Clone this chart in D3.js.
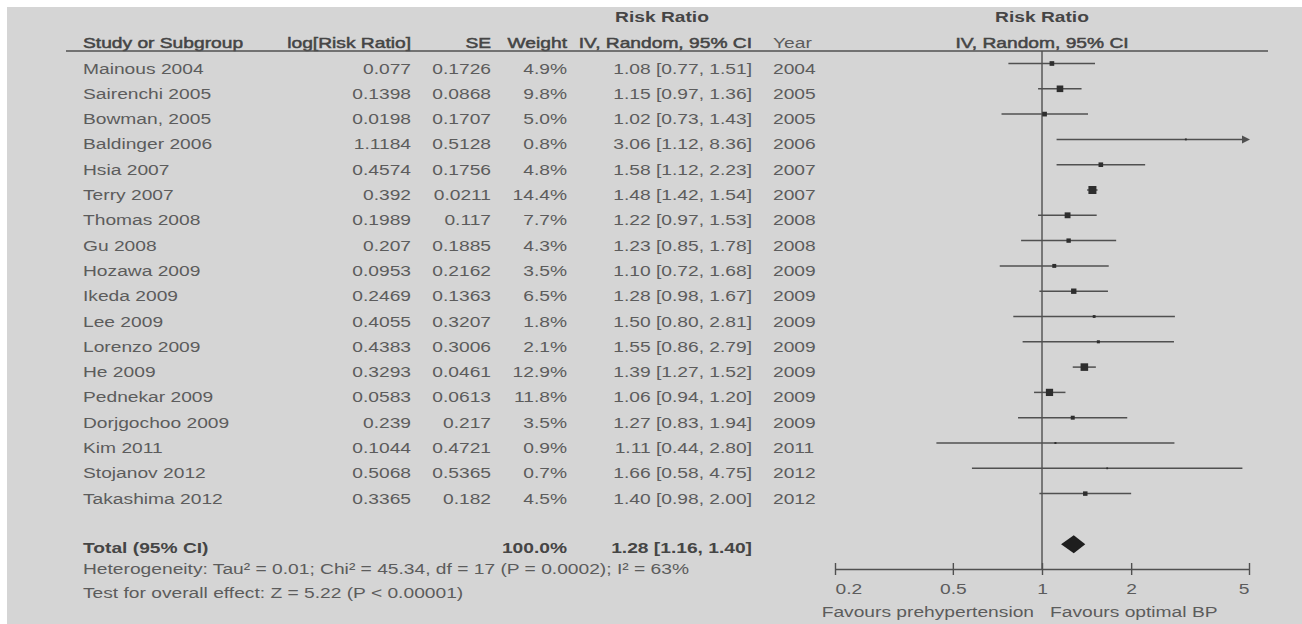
<!DOCTYPE html>
<html>
<head>
<meta charset="utf-8">
<script src="https://cdn.jsdelivr.net/npm/d3@7"></script>
<style>
  html, body { margin: 0; padding: 0; background: #ffffff; }
  svg { display: block; }
</style>
</head>
<body>
<svg id="chart" width="1302" height="624"></svg>
<script>
// ---- Study data (log risk ratios, standard errors, weights, pooled CIs) ----
const studies = ["Mainous 2004", "Sairenchi 2005", "Bowman, 2005", "Baldinger 2006", "Hsia 2007",
  "Terry 2007", "Thomas 2008", "Gu 2008", "Hozawa 2009", "Ikeda 2009", "Lee 2009", "Lorenzo 2009",
  "He 2009", "Pednekar 2009", "Dorjgochoo 2009", "Kim 2011", "Stojanov 2012", "Takashima 2012"];
const logRR = [0.077, 0.1398, 0.0198, 1.1184, 0.4574, 0.392, 0.1989, 0.207, 0.0953, 0.2469,
  0.4055, 0.4383, 0.3293, 0.0583, 0.239, 0.1044, 0.5068, 0.3365];
const seValues = [0.1726, 0.0868, 0.1707, 0.5128, 0.1756, 0.0211, 0.117, 0.1885, 0.2162, 0.1363,
  0.3207, 0.3006, 0.0461, 0.0613, 0.217, 0.4721, 0.5365, 0.182];
const weights = [4.9, 9.8, 5.0, 0.8, 4.8, 14.4, 7.7, 4.3, 3.5, 6.5, 1.8, 2.1, 12.9, 11.8, 3.5, 0.9, 0.7, 4.5];
const riskRatio = [1.08, 1.15, 1.02, 3.06, 1.58, 1.48, 1.22, 1.23, 1.10, 1.28, 1.50, 1.55, 1.39, 1.06, 1.27, 1.11, 1.66, 1.40];
const ciLower = [0.77, 0.97, 0.73, 1.12, 1.12, 1.42, 0.97, 0.85, 0.72, 0.98, 0.80, 0.86, 1.27, 0.94, 0.83, 0.44, 0.58, 0.98];
const ciUpper = [1.51, 1.36, 1.43, 8.36, 2.23, 1.54, 1.53, 1.78, 1.68, 1.67, 2.81, 2.79, 1.52, 1.20, 1.94, 2.80, 4.75, 2.00];
const years = [2004, 2005, 2005, 2006, 2007, 2007, 2008, 2008, 2009, 2009, 2009, 2009, 2009, 2009, 2009, 2011, 2012, 2012];

const totalWeight = 100.0;
const totalRR = 1.28, totalLower = 1.16, totalUpper = 1.40;

const axisTicks = [0.2, 0.5, 1, 2, 5];
const axisTickLabels = ["0.2", "0.5", "1", "2", "5"];
const favoursLeft = "Favours prehypertension";
const favoursRight = "Favours optimal BP";
const heterogeneityText = "Heterogeneity: Tau\u00B2 = 0.01; Chi\u00B2 = 45.34, df = 17 (P = 0.0002); I\u00B2 = 63%";
const overallEffectText = "Test for overall effect: Z = 5.22 (P < 0.00001)";

// ---- Layout ----
const svg = d3.select("#chart");
const FONT = "'Liberation Sans', Arial, Helvetica, sans-serif";
const SX = 1.24;           // horizontal stretch of the table typeface
const TEXT = "#5c5c5c", TEXT_BOLD = "#454545", INK = "#505050", MARK = "#2e2e2e";

svg.append("rect")
  .attr("x", 7).attr("y", 7).attr("width", 1295).attr("height", 617)
  .attr("fill", "#d5d5d5");

// opt.bold: true bold face; opt.heavy: regular widths with a thin outline
function label(x, y, s, opt = {}) {
  const t = svg.append("text")
    .attr("transform", `translate(${x},${y}) scale(${SX},1)`)
    .attr("text-anchor", opt.anchor || "start")
    .attr("font-weight", opt.bold ? "bold" : "normal")
    .attr("fill", (opt.bold || opt.heavy) ? TEXT_BOLD : TEXT)
    .attr("font-size", opt.size || 15.5)
    .attr("font-family", FONT)
    .text(s);
  if (opt.heavy) t.attr("stroke", TEXT_BOLD).attr("stroke-width", 0.5);
  return t;
}

// Row positions: 18 studies, one spacer row, then the pooled total
const rowY = d3.scalePoint().domain(d3.range(20)).range([63.5, 63.5 + 25.3 * 19]);
const textDy = 10;

// Forest-plot scale (log risk ratio)
const x = d3.scaleLog().domain([0.2, 5]).range([835, 1249]);
const markSize = d3.scaleSqrt().domain([0, d3.max(weights)]).range([0, 8]);

// Column anchors
const col = { name: 83, logrr: 411, se: 491, weight: 567, ci: 752, year: 773 };

// ---- Headers ----
const headerBase = 48, headerTop = 22, headerLineY = 51;
label(662, headerTop, "Risk Ratio", { anchor: "middle", bold: true });
label(col.name, headerBase, "Study or Subgroup", { heavy: true });
label(col.logrr, headerBase, "log[Risk Ratio]", { anchor: "end", heavy: true });
label(col.se, headerBase, "SE", { anchor: "end", heavy: true });
label(col.weight, headerBase, "Weight", { anchor: "end", heavy: true });
label(col.ci, headerBase, "IV, Random, 95% CI", { anchor: "end", heavy: true });
label(col.year, headerBase, "Year");
label(x(1), headerTop, "Risk Ratio", { anchor: "middle", bold: true });
label(x(1), headerBase, "IV, Random, 95% CI", { anchor: "middle", heavy: true });

svg.append("line")
  .attr("x1", 66).attr("x2", 1268).attr("y1", headerLineY).attr("y2", headerLineY)
  .attr("stroke", INK).attr("stroke-width", 1.6);

// ---- Study rows (table) ----
const fmt2 = d3.format(".2f");
studies.forEach((s, i) => {
  const yb = rowY(i) + textDy;
  label(col.name, yb, s);
  label(col.logrr, yb, String(logRR[i]), { anchor: "end" });
  label(col.se, yb, String(seValues[i]), { anchor: "end" });
  label(col.weight, yb, weights[i].toFixed(1) + "%", { anchor: "end" });
  label(col.ci, yb, `${fmt2(riskRatio[i])} [${fmt2(ciLower[i])}, ${fmt2(ciUpper[i])}]`, { anchor: "end" });
  label(col.year, yb, String(years[i]));
});

// Total row and footnotes
const totalY = rowY(19);
label(col.name, totalY + 9, "Total (95% CI)", { bold: true });
label(col.weight, totalY + 9, totalWeight.toFixed(1) + "%", { anchor: "end", bold: true });
label(col.ci, totalY + 9, `${fmt2(totalRR)} [${fmt2(totalLower)}, ${fmt2(totalUpper)}]`, { anchor: "end", bold: true });
label(col.name, 574, heterogeneityText);
label(col.name, 598, overallEffectText);

// ---- Forest plot ----
const axisY = 569;
const plot = svg.append("g");

// line of no effect
plot.append("line")
  .attr("x1", x(1)).attr("x2", x(1)).attr("y1", headerLineY).attr("y2", axisY)
  .attr("stroke", INK).attr("stroke-width", 1.4);

const [dMin, dMax] = x.domain();
const rows = studies.map((s, i) => ({ i, rr: riskRatio[i], lo: ciLower[i], hi: ciUpper[i], w: weights[i] }));

// confidence intervals
plot.selectAll("line.ci").data(rows).join("line")
  .attr("class", "ci")
  .attr("x1", d => x(Math.max(d.lo, dMin)))
  .attr("x2", d => x(Math.min(d.hi, dMax)) - (d.hi > dMax ? 5 : 0))
  .attr("y1", d => rowY(d.i)).attr("y2", d => rowY(d.i))
  .attr("stroke", INK).attr("stroke-width", 1.5);

// arrows for intervals beyond the axis
plot.selectAll("path.arrow").data(rows.filter(d => d.hi > dMax)).join("path")
  .attr("class", "arrow")
  .attr("d", d => {
    const xe = x(dMax) + 1, y = rowY(d.i);
    return `M${xe},${y} L${xe - 8},${y - 4} L${xe - 8},${y + 4} Z`;
  })
  .attr("fill", INK);

// weight squares
plot.selectAll("rect.box").data(rows).join("rect")
  .attr("class", "box")
  .attr("x", d => x(d.rr) - markSize(d.w) / 2)
  .attr("y", d => rowY(d.i) - markSize(d.w) / 2)
  .attr("width", d => markSize(d.w))
  .attr("height", d => markSize(d.w))
  .attr("fill", MARK);

// pooled diamond
plot.append("path")
  .attr("d", `M${x(totalLower)},${totalY} L${x(totalRR)},${totalY - 9} L${x(totalUpper)},${totalY} L${x(totalRR)},${totalY + 9} Z`)
  .attr("fill", "#1e1e1e");

// axis
const axis = d3.axisBottom(x)
  .tickValues(axisTicks)
  .tickFormat((d, i) => axisTickLabels[i])
  .tickSizeOuter(0)
  .tickSizeInner(6);
const axisG = plot.append("g").attr("transform", `translate(0,${axisY})`).call(axis);
axisG.select(".domain").attr("stroke", INK).attr("stroke-width", 1.6);
axisG.selectAll(".tick line").attr("y1", -6).attr("y2", 6).attr("stroke", INK).attr("stroke-width", 1.4);
axisG.selectAll(".tick text")
  .attr("y", 0).attr("dy", null)
  .attr("transform", `translate(0,25) scale(${SX},1)`)
  .attr("font-family", FONT).attr("font-size", 15.5)
  .attr("fill", TEXT)
  .attr("text-anchor", (d, i) => i === 0 ? "start" : (i === axisTicks.length - 1 ? "end" : "middle"));

label(x(1) - 8, 617, favoursLeft, { anchor: "end" });
label(x(1) + 8, 617, favoursRight, { anchor: "start" });
</script>
</body>
</html>
